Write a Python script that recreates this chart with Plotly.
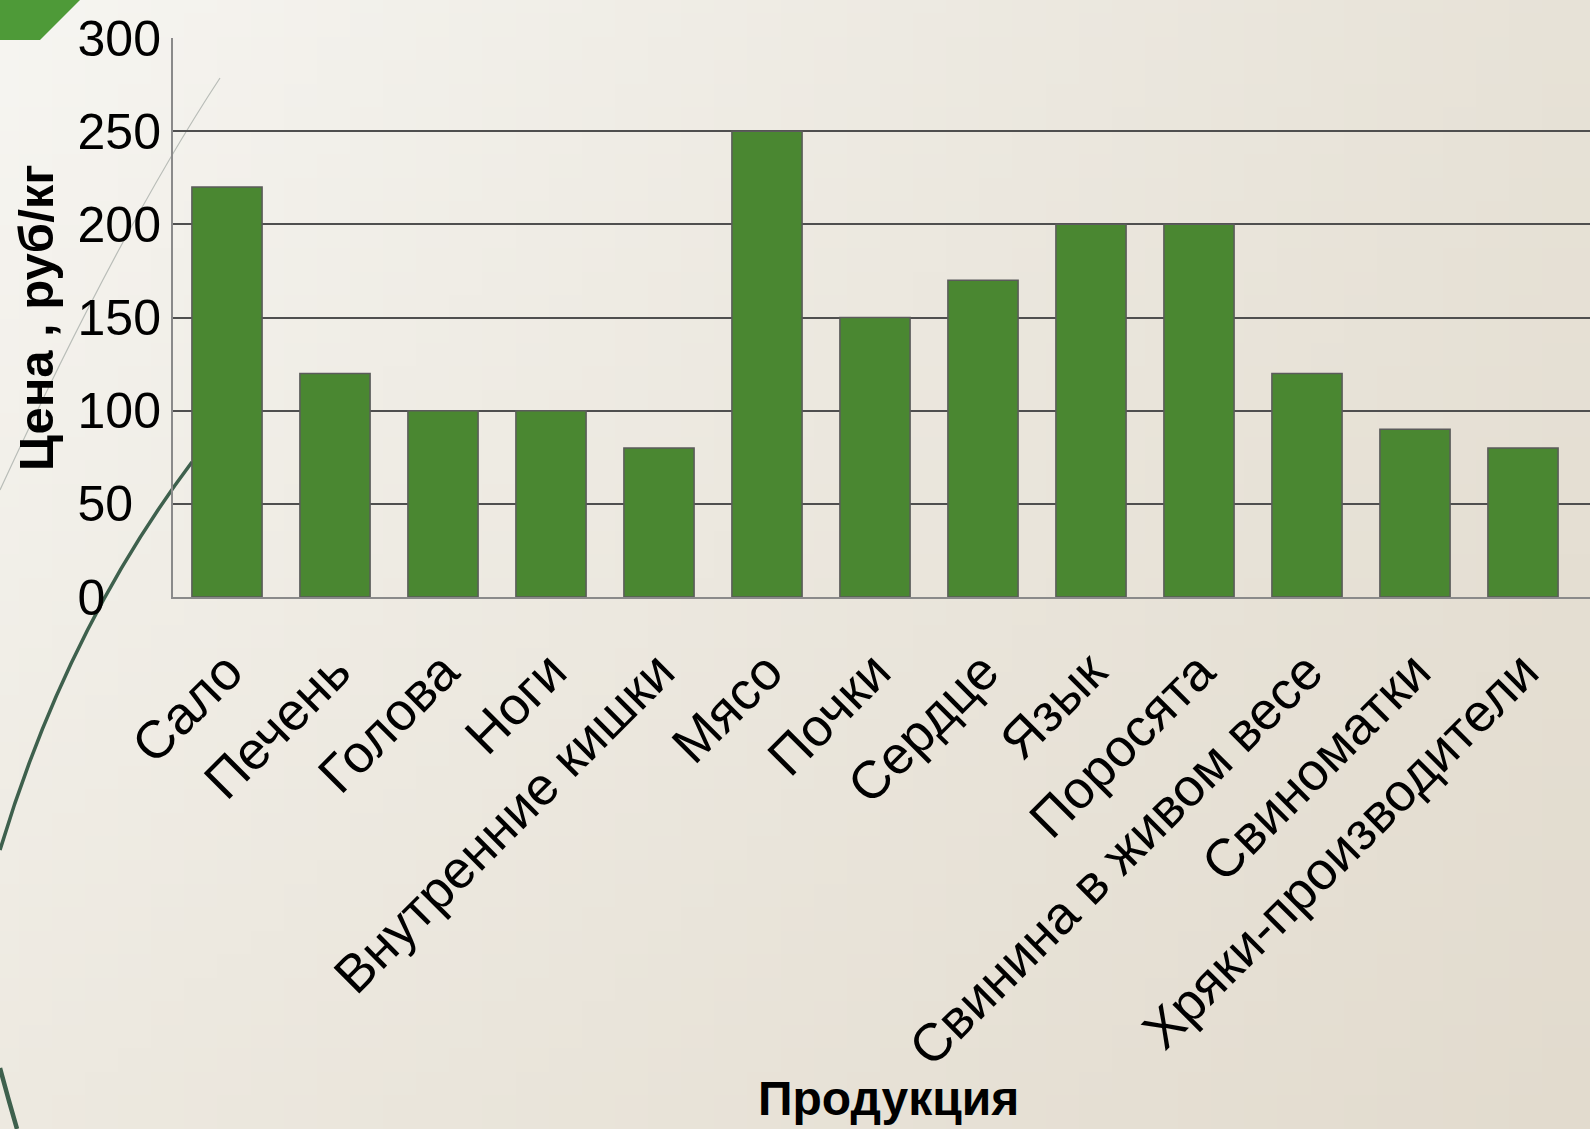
import base64, struct, zlib
import plotly.graph_objects as go

categories = ["Сало", "Печень", "Голова", "Ноги", "Внутренние кишки", "Мясо", "Почки",
              "Сердце", "Язык", "Поросята", "Свинина в живом весе", "Свиноматки",
              "Хряки-производители"]
prices = [220, 120, 100, 100, 80, 250, 150, 170, 200, 200, 120, 90, 80]
y_ticks = [0, 50, 100, 150, 200, 250, 300]

W, H = 1590, 1129
L, R, T, B = 173, 0, 38, 532
PW, PH = W - L - R, H - T - B


def px(x):
    return (x - L) / PW


def py(y):
    return (H - B - y) / PH


def gradient_png(w=48, h=48):
    tl, tr, bl, br = (246, 245, 241), (231, 226, 215), (237, 233, 224), (226, 219, 206)
    rows = b""
    for j in range(h):
        v = j / (h - 1)
        row = b"\x00"
        for i in range(w):
            u = i / (w - 1)
            c = [int(round((1 - u) * (1 - v) * tl[k] + u * (1 - v) * tr[k] + (1 - u) * v * bl[k] + u * v * br[k])) for k in range(3)]
            row += bytes(c)
        rows += row

    def chunk(t, d):
        c = struct.pack(">I", len(d)) + t + d
        return c + struct.pack(">I", zlib.crc32(t + d) & 0xffffffff)

    png = b"\x89PNG\r\n\x1a\n" + chunk(b"IHDR", struct.pack(">IIBBBBB", w, h, 8, 2, 0, 0, 0))
    png += chunk(b"IDAT", zlib.compress(rows)) + chunk(b"IEND", b"")
    return "data:image/png;base64," + base64.b64encode(png).decode()


# left-aligned tick labels: pad with figure spaces (digit width)
tick_text = [str(v) + "\u2007" * (3 - len(str(v))) for v in y_ticks]

fig = go.Figure()
fig.add_trace(go.Bar(
    x=categories, y=prices, width=0.65,
    marker=dict(color="#4a8731", line=dict(color="#5b5b5b", width=1.5)),
))

font = "Liberation Sans, Arial, sans-serif"

shapes = [
    # green corner
    dict(type="path", xref="paper", yref="paper", layer="below",
         path=f"M {px(0)} {py(0)} L {px(80)} {py(0)} L {px(40)} {py(40)} L {px(0)} {py(40)} Z",
         fillcolor="#4e9a38", line=dict(width=0)),
    # thin gray arc
    dict(type="path", xref="paper", yref="paper", layer="below",
         path=f"M {px(220)} {py(78)} Q {px(120)} {py(230)} {px(0)} {py(490)}",
         line=dict(color="#b9bdb8", width=1.2)),
    # thick dark green arc
    dict(type="path", xref="paper", yref="paper", layer="below",
         path=f"M {px(192)} {py(462)} Q {px(66)} {py(630)} {px(0)} {py(850)}",
         line=dict(color="#3e604d", width=3.5)),
    dict(type="path", xref="paper", yref="paper", layer="below",
         path=f"M {px(0)} {py(1068)} Q {px(8)} {py(1098)} {px(17)} {py(1129)}",
         line=dict(color="#3e604d", width=4.5)),
]

fig.update_layout(
    width=W, height=H,
    margin=dict(l=L, r=R, t=T, b=B, autoexpand=False),
    paper_bgcolor="#eeebe4",
    plot_bgcolor="rgba(0,0,0,0)",
    showlegend=False,
    font=dict(family=font, color="#000000"),
    bargap=0.35,
    images=[dict(source=gradient_png(), xref="paper", yref="paper",
                 x=px(0), y=py(0), sizex=W / PW, sizey=H / PH,
                 xanchor="left", yanchor="top", sizing="stretch", layer="below")],
    shapes=shapes,
    xaxis=dict(
        range=[-0.5, -0.5 + PW / 108.0],
        tickangle=-45, tickfont=dict(size=53, family=font),
        showgrid=False, showline=True, linecolor="#8a8a8a", linewidth=2,
        ticks="", ticklabelstandoff=20,
    ),
    yaxis=dict(
        range=[0, 300], tickvals=y_ticks, ticktext=tick_text,
        tickfont=dict(size=50, family=font),
        showgrid=True, gridcolor="#4f4f4f", gridwidth=2,
        zeroline=False, showline=True, linecolor="#8a8a8a", linewidth=2,
        ticks="", ticklabelstandoff=0,
    ),
    annotations=[
        dict(text="<b>Цена , руб/кг</b>", xref="paper", yref="paper",
             x=px(36), y=py(318), textangle=-90, showarrow=False,
             xanchor="center", yanchor="middle", font=dict(size=49, family=font)),
        dict(text="<b>Продукция</b>", xref="paper", yref="paper",
             x=px(888), y=py(1098), showarrow=False,
             xanchor="center", yanchor="middle", font=dict(size=48, family=font)),
    ],
)

fig.write_html("out.html", config={"displayModeBar": False},
               post_script="document.body.style.margin='0px';document.body.style.overflow='hidden';")
